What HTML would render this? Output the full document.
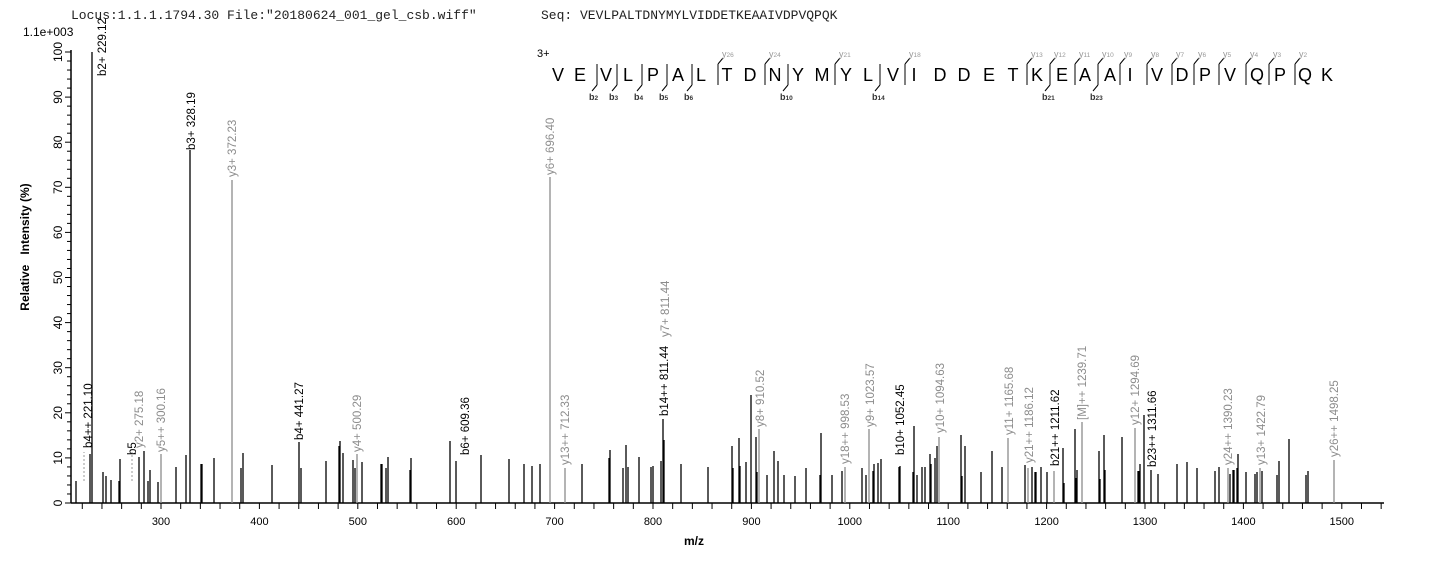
<!DOCTYPE html>
<html><head><meta charset="utf-8"><style>
html,body{margin:0;padding:0;background:#fff;}
svg{display:block;font-family:"Liberation Sans",Arial,sans-serif;}
</style></head><body>
<svg id="s" width="1436" height="562" viewBox="0 0 1436 562" xmlns="http://www.w3.org/2000/svg">
<rect width="1436" height="562" fill="#fff"/>
<text x="71" y="19" font-family="Liberation Mono,monospace" font-size="13" fill="#222" xml:space="preserve">Locus:1.1.1.1794.30 File:"20180624_001_gel_csb.wiff"</text>
<text x="541" y="19" font-family="Liberation Mono,monospace" font-size="13" fill="#222">Seq: VEVLPALTDNYMYLVIDDETKEAAIVDPVQPQK</text>
<text x="23" y="36" font-size="12" fill="#000">1.1e+003</text>
<text transform="translate(29,247) rotate(-90)" text-anchor="middle" font-size="12" font-weight="bold" xml:space="preserve">Relative   Intensity (%)</text>
<text x="684" y="545" font-size="12" font-weight="bold">m/z</text>
<text x="537" y="57" font-size="11">3+</text>
<g id="g"></g>
</svg>
<script>
var g=document.getElementById('g'),h='';
function L(x1,y1,x2,y2,c,w,d){h+='<line x1="'+x1+'" y1="'+y1+'" x2="'+x2+'" y2="'+y2+'" stroke="'+c+'" stroke-width="'+(w||1)+'"'+(d?' stroke-dasharray="2,2"':'')+'/>';}
function T(x,y,t,c,s,extra){h+='<text x="'+x+'" y="'+y+'" fill="'+c+'" font-size="'+s+'" '+(extra||'')+'>'+t+'</text>';}
L(71,503,1384,503,'#000',1.5);L(71,50,71,503,'#000',1.5);
for(var p=0;p<=100;p+=2){var y=503-p*4.51;L(p%10==0?65:67,y,71,y,'#000',1);}
for(var p=0;p<=100;p+=10){var y=503-p*4.51;h+='<text transform="translate(62,'+y+') rotate(-90)" text-anchor="middle" font-size="12">'+p+'</text>';}
function X(m){return 161+(m-300)*0.984;}
for(var m=220;m<=1540;m+=20){var x=X(m);L(x,503,x,509,'#000',1);}
for(var m=300;m<=1500;m+=100){T(X(m),525,m,'#000',11,'text-anchor="middle"');}
var pk=[[76,481],[90,454],[92,52],[103,472],[106,476],[111,480],[119,481],[120,459],[139,457],[144,451],[148,481],[150,470],[158,482],[176,467],[186,455],[190,150],[201,464],[202,464],[214,458],[241,468],[243,453],[272,465],[299,442],[301,468],[326,461],[339,446],[340,441],[343,453],[353,460],[355,468],[362,462],
[381,464],[382,464],[386,468],[388,457],[410,470],[411,458],[450,441],[456,461],[481,455],[509,459],[524,464],[532,466],[540,464],[582,464],[609,458],[610,450],[623,468],[626,445],[628,467],[639,457],
[651,467],[653,466],[661,461],[663,419],[664,440],[681,464],[708,467],[732,446],[733,468],[739,438],[740,466],[746,462],[751,395],[756,437],[757,472],[767,475],[774,451],[778,461],[784,475],[795,476],[806,468],[820,475],[821,433],[832,475],[842,471],[862,468],[866,475],[873,471],[874,464],[878,463],[881,459],[899,467],[900,466],[913,472],[914,426],[917,475],[922,467],[925,467],[930,454],[931,464],[935,458],[937,446],[961,435],[962,476],[965,446],[981,472],[992,451],[1002,467],[1025,465],[1032,467],[1035,472],[1036,472],[1041,467],[1047,472],[1063,448],[1064,483],[1075,429],[1076,478],[1077,470],
[1099,451],[1100,479],[1104,435],[1105,470],[1122,437],[1138,471],[1139,471],[1140,464],[1144,415],[1151,470],[1158,474],[1177,464],[1187,462],[1197,468],[1215,471],[1219,467],[1230,474],[1233,470],[1234,470],[1237,468],[1238,454],[1246,472],[1255,474],[1257,472],[1262,471],[1277,475],[1279,461],[1289,439],[1306,475],[1308,471]];
pk.forEach(function(a){L(a[0],503,a[0],a[1],'#000',1.3);});
var gp=[[161,454],[232,180],[357,454],[550,177],[565,468],[759,429],[845,467],[869,429],[939,437],[1008,438],[1028,468],[1054,471],[1082,422],[1135,428],[1228,468],[1260,468],[1334,460]];
gp.forEach(function(a){L(a[0],503,a[0],a[1],'#8c8c8c',1.3);});
L(84,481,84,452,'#999',1,1);L(132,481,132,452,'#999',1,1);
var lb=[[102,76,'b2+ 229.12','#000'],[88,448,'b4++ 221.10','#000'],[132,455,'b5','#000'],[139,448,'y2+ 275.18','#8c8c8c'],[161,452,'y5++ 300.16','#8c8c8c'],[191,150,'b3+ 328.19','#000'],[232,177,'y3+ 372.23','#8c8c8c'],[299,440,'b4+ 441.27','#000'],[357,452,'y4+ 500.29','#8c8c8c'],[465,455,'b6+ 609.36','#000'],[550,175,'y6+ 696.40','#8c8c8c'],[565,465,'y13++ 712.33','#8c8c8c'],[664,416,'b14++ 811.44','#000'],[665,337,'y7+ 811.44','#8c8c8c'],[760,427,'y8+ 910.52','#8c8c8c'],[845,464,'y18++ 998.53','#8c8c8c'],[870,427,'y9+ 1023.57','#8c8c8c'],[900,455,'b10+ 1052.45','#000'],[940,433,'y10+ 1094.63','#8c8c8c'],[1009,435,'y11+ 1165.68','#8c8c8c'],[1029,463,'y21++ 1186.12','#8c8c8c'],[1055,466,'b21++ 1211.62','#000'],[1082,420,'[M]++ 1239.71','#8c8c8c'],[1135,425,'y12+ 1294.69','#8c8c8c'],[1152,467,'b23++ 1311.66','#000'],[1228,465,'y24++ 1390.23','#8c8c8c'],[1261,465,'y13+ 1422.79','#8c8c8c'],[1334,457,'y26++ 1498.25','#8c8c8c']];
lb.forEach(function(a){h+='<text transform="translate('+(a[0]+4)+','+a[1]+') rotate(-90)" font-size="11.5" fill="'+a[3]+'">'+a[2]+'</text>';});
var seq='VEVLPALTDNYMYLVIDDETKEAAIVDPVQPQK'.split('');
var sx=[558,580,606,628,653,678,701,727,750,775,798,822,846,868,893,914,940,964,989,1013,1037,1062,1085,1110,1130,1157,1182,1205,1230,1257,1280,1305,1327];
seq.forEach(function(c,i){T(sx[i],81,c,'#000',18,'text-anchor="middle"');});
var bs=[[597,'2'],[617,'3'],[642,'4'],[667,'5'],[692,'6'],[788,'10'],[880,'14'],[1050,'21'],[1098,'23']];
bs.forEach(function(a){L(a[0],64,a[0],85,'#000',1);L(a[0],85,a[0]-5,91,'#000',1);h+='<text x="'+(a[0]-8)+'" y="100" font-size="9" font-weight="bold" fill="#333">b<tspan font-size="6.5">'+a[1]+'</tspan></text>';});
var ys=[[718,'26'],[765,'24'],[835,'21'],[905,'18'],[1027,'13'],[1050,'12'],[1075,'11'],[1098,'10'],[1120,'9'],[1147,'8'],[1172,'7'],[1194,'6'],[1219,'5'],[1246,'4'],[1269,'3'],[1295,'2']];
ys.forEach(function(a){L(a[0],64,a[0],85,'#000',1);L(a[0],64,a[0]+5,58,'#000',1);h+='<text x="'+(a[0]+4)+'" y="57" font-size="9" fill="#999">y<tspan font-size="6.5">'+a[1]+'</tspan></text>';});
g.innerHTML=h;
</script>
</body></html>
